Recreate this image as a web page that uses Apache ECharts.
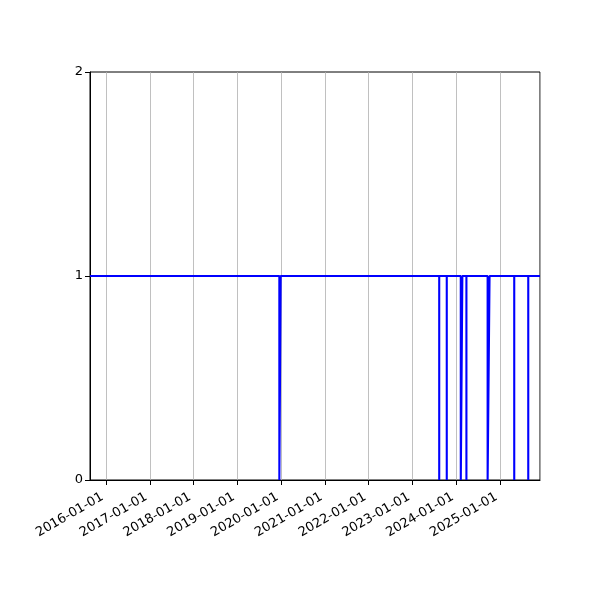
<!DOCTYPE html>
<html>
<head>
<meta charset="utf-8">
<script src="https://cdn.jsdelivr.net/npm/echarts@6/dist/echarts.min.js"></script>
<style>
  html, body { margin: 0; padding: 0; background: #fff; }
  #chart { width: 600px; height: 600px; }
</style>
</head>
<body>
<div id="chart"></div>
<script>
// x range of the axis
const xStart = '2015-08-21';
const xEnd = '2025-12-01';

// periods where the value drops from 1 to 0
const outageStart = ['2019-12-18', '2023-08-13', '2023-10-15', '2024-02-09', '2024-03-27', '2024-09-20', '2025-04-30', '2025-08-25'];
const outageEnd   = ['2019-12-29', '2023-08-13', '2023-10-15', '2024-02-22', '2024-03-27', '2024-10-06', '2025-04-30', '2025-08-25'];

const yTicks = [0, 1, 2];

// build step series from outages
function buildSeries() {
    const pts = [[xStart, 1]];
    for (let i = 0; i < outageStart.length; i++) {
        pts.push([outageStart[i], 1]);
        pts.push([outageStart[i], 0]);
        pts.push([outageEnd[i], 0]);
        pts.push([outageEnd[i], 1]);
    }
    pts.push([xEnd, 1]);
    return pts;
}

const chart = echarts.init(document.getElementById('chart'));

const option = {
    animation: false,
    grid: {
        left: 90,
        top: 72,
        right: 60,
        bottom: 120,
        show: true,
        borderColor: '#000',
        borderWidth: 1,
        backgroundColor: 'transparent'
    },
    xAxis: {
        type: 'time',
        min: xStart,
        max: xEnd,
        minInterval: 365 * 86400000,
        maxInterval: 366 * 86400000,
        axisLine: { show: true, lineStyle: { color: '#000', width: 1 } },
        axisTick: { show: true, length: 5, lineStyle: { color: '#000' } },
        axisLabel: {
            rotate: 30,
            margin: 14,
            padding: [0, 4, 0, 0],
            color: '#000',
            fontFamily: 'DejaVu Sans',
            fontSize: 13,
            formatter: '{yyyy}-{MM}-{dd}',
            showMinLabel: false,
            showMaxLabel: false
        },
        splitLine: { show: true, lineStyle: { color: '#b0b0b0', width: 0.8 } }
    },
    yAxis: {
        type: 'value',
        min: yTicks[0],
        max: yTicks[yTicks.length - 1],
        interval: 1,
        axisLine: { show: true, lineStyle: { color: '#000', width: 1 } },
        axisTick: { show: true, length: 5, lineStyle: { color: '#000' } },
        axisLabel: {
            margin: 7,
            color: '#000',
            fontFamily: 'DejaVu Sans',
            fontSize: 13
        },
        splitLine: { show: false }
    },
    series: [{
        type: 'line',
        data: buildSeries(),
        showSymbol: false,
        lineStyle: { color: '#0000ff', width: 2.1 },
        clip: true
    }]
};

chart.setOption(option);
</script>
</body>
</html>
